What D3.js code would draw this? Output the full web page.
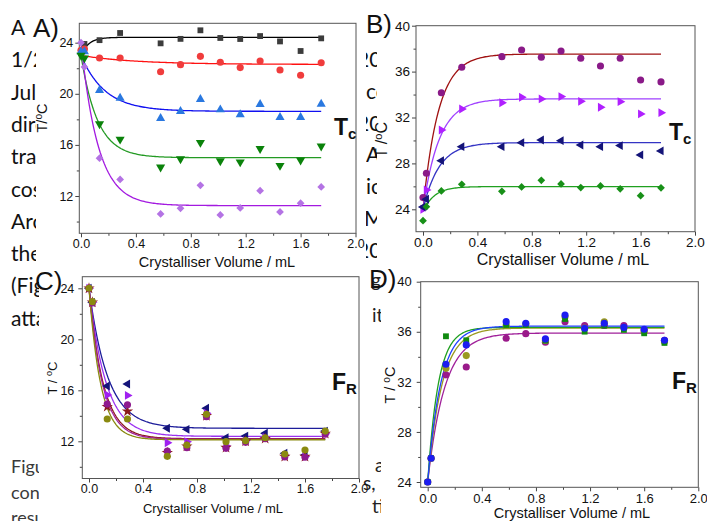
<!DOCTYPE html>
<html>
<head>
<meta charset="utf-8">
<script src="https://cdn.jsdelivr.net/npm/d3@7"></script>
<style>
  html, body { margin: 0; padding: 0; background: #fff; }
  svg { display: block; }
</style>
</head>
<body>
<svg id="fig" width="707" height="521"></svg>
<script>
// ---------------- data ----------------

// crystalliser volumes (mL) shared by every series
const volumes = [0, 0.025, 0.135, 0.285, 0.58, 0.725, 0.87, 1.015, 1.16, 1.305, 1.45, 1.6, 1.75];

// panel A : Tc, cooling
const aBlack  = [23.2, 23.9, 24.2, 24.76, 23.95, 24.3, 24.97, 24.37, 24.29, 24.52, 24.1, 23.35, 24.34];
const aRed    = [23.4, 23.5, 22.8, 22.8, 21.73, 22.28, 22.93, 22.47, 22.05, 22.57, 21.86, 21.45, 22.43];
const aBlue   = [23.3, 23.3, 20.27, 19.67, 18.08, 18.63, 19.57, 18.76, 18.37, 19.18, 18.16, 18.16, 19.2];
const aGreen  = [23.0, 22.8, 17.64, 16.44, 14.25, 14.9, 16.18, 14.74, 14.66, 15.7, 14.38, 14.8, 15.9];
const aPurple = [24.0, 22.1, 14.96, 13.3, 10.6, 11.04, 12.84, 10.52, 11.07, 12.42, 10.75, 11.44, 12.71];
// fitted exponentials: [start, plateau, rate]
const aFits = [[23.0, 24.42, 18], [23.0, 22.3, 2.5], [23.0, 18.63, 5.7], [23.0, 15.0, 8.3], [24.0, 11.25, 8]];

// panel B : Tc, heating
const bPurple  = [25.02, 27.14, 34.16, 36.38, 37.3, 37.88, 37.25, 37.8, 37.16, 36.49, 37.16, 35.27, 35.1];
const bMagenta = [24.0, 25.69, 30.91, 32.74, 33.29, 33.76, 33.62, 33.82, 33.41, 32.89, 33.38, 32.31, 32.42];
const bNavy    = [24.2, 24.88, 28.24, 29.46, 29.46, 29.81, 30.04, 29.98, 29.6, 29.46, 29.55, 28.74, 29.09];
const bGreen   = [23.01, 24.23, 25.6, 26.18, 25.57, 25.95, 26.53, 26.21, 25.89, 26.04, 25.78, 25.19, 25.87];
const bFits = [[24.0, 37.53, 8.8], [24.0, 33.62, 8.4], [24.0, 29.81, 8.5], [23.8, 25.98, 12]];

// panel C : FR, cooling
const cNavy   = [24, 22.9, 16.34, 16.49, 13.02, 12.94, 14.59, 12.28, 12.41, 12.63, 11.06, 10.93, 12.8];
const cViolet = [24, 22.9, 15.63, 15.6, 11.89, 11.97, 14.2, 11.66, 12.05, 12.3, 10.9, 10.8, 12.6];
const cMaroon = [24, 22.9, 14.71, 14.35, 11.1, 11.6, 14.0, 11.5, 12.0, 12.2, 10.8, 10.8, 12.6];
const cPurple = [24, 22.85, 14.92, 14.87, 11.24, 11.5, 13.93, 11.45, 11.92, 12.2, 10.77, 10.75, 12.55];
const cOlive  = [24, 22.95, 13.75, 13.75, 10.82, 11.71, 14.12, 11.97, 12.05, 12.28, 11.0, 11.32, 12.8];
const cFits = [[24, 13.02, 7.2], [24, 12.39, 8], [24, 12.2, 9.5], [24, 12.16, 10], [24, 12.12, 11.5]];

// panel D : FR, heating
const dPurple = [24, 25.9, 32.56, 33.19, 35.48, 35.85, 35.16, 36.8, 36.49, 36.5, 36.49, 36.1, 35.32];
const dOlive  = [24, 25.9, 33.09, 34.1, 36.5, 36.6, 35.3, 37.2, 36.3, 36.8, 36.3, 36.0, 35.2];
const dGreen  = [24, 25.9, 35.64, 35.32, 36.54, 36.54, 35.3, 37.02, 36.01, 36.49, 36.15, 35.88, 35.11];
const dBlue   = [24, 25.9, 33.41, 34.95, 36.81, 36.68, 35.43, 37.34, 36.28, 36.68, 36.35, 36.2, 35.32];
const dFits = [[24, 35.9, 8], [24, 36.3, 9.5], [24, 36.35, 12.8], [24, 36.45, 10.4]];

// tick labels
const xTicks = [0, 0.4, 0.8, 1.2, 1.6, 2.0];
const xMinor = [0.2, 0.6, 1.0, 1.4, 1.8];
const yTicksLow = [12, 16, 20, 24];
const yMinorLow = [10, 14, 18, 22];
const yTicksHigh = [24, 28, 32, 36, 40];
const yMinorHigh = [26, 30, 34, 38];
const xTitle = 'Crystalliser Volume / mL';

// document text that shows around the figure
const leftLines = ['A', '1/2', 'July', 'direct', 'transf', 'cost', 'Arou', 'the', '(Fig', 'attai'];
const captionLines = ['Figure', 'consi', 'resul'];

// ---------------- drawing ----------------
const svg = d3.select('#fig');
const chartFont = '"Liberation Sans", Arial, sans-serif';
const docFont = 'Lato, "Open Sans", sans-serif';

svg.append('rect').attr('width', 707).attr('height', 521).attr('fill', '#fff');

// left column of the page text
const docText = svg.append('g').attr('font-family', docFont);
leftLines.forEach((t, i) => {
  docText.append('text').attr('x', 11).attr('y', 35 + i * 32.3)
    .attr('font-size', 21).attr('fill', '#111').text(t);
});
captionLines.forEach((t, i) => {
  docText.append('text').attr('x', 11).attr('y', 473 + i * 25.5)
    .attr('font-size', 18).attr('fill', '#3a3a3a').text(t);
});

// white picture areas hide the rest of the text
svg.append('rect').attr('x', 36).attr('y', 40).attr('width', 330).attr('height', 222).attr('fill', '#fff');
svg.append('rect').attr('x', 39).attr('y', 262).attr('width', 324).attr('height', 259).attr('fill', '#fff');

// text of the second column, seen only in the gap between pictures
const defs = svg.append('defs');
defs.append('clipPath').attr('id', 'gapTop')
  .append('rect').attr('x', 366).attr('y', 40).attr('width', 11).attr('height', 225);
defs.append('clipPath').attr('id', 'gapBottom')
  .append('rect').attr('x', 362).attr('y', 268).attr('width', 19).attr('height', 253);

const gapTop = svg.append('g').attr('clip-path', 'url(#gapTop)')
  .attr('font-family', docFont).attr('font-size', 21).attr('fill', '#111');
[['20', 357, 67], ['co', 366, 99], ['20', 357, 131], ['A', 366, 162],
 ['ic', 366, 194], ['M', 364, 226], ['20', 357, 258]].forEach(([t, x, y]) => {
  gapTop.append('text').attr('x', x).attr('y', y).text(t);
});
const gapBottom = svg.append('g').attr('clip-path', 'url(#gapBottom)')
  .attr('font-family', docFont).attr('font-size', 19).attr('fill', '#222');
[['g', 371, 287], ['it', 372, 322], ['a', 375, 472], ['s,', 363, 490], ['ti', 372, 513]].forEach(([t, x, y]) => {
  gapBottom.append('text').attr('x', x).attr('y', y).text(t);
});

// marker shapes
function markerPath(shape) {
  const s = d3.symbol();
  switch (shape) {
    case 'square': return { d: s.type(d3.symbolSquare).size(34)(), rot: 0 };
    case 'diamond': return { d: s.type(d3.symbolSquare).size(30)(), rot: 45 };
    case 'circle': return { d: s.type(d3.symbolCircle).size(40)(), rot: 0 };
    case 'up': return { d: s.type(d3.symbolTriangle).size(36)(), rot: 0 };
    case 'down': return { d: s.type(d3.symbolTriangle).size(36)(), rot: 180 };
    case 'right': return { d: s.type(d3.symbolTriangle).size(34)(), rot: 90 };
    case 'left': return { d: s.type(d3.symbolTriangle).size(34)(), rot: -90 };
    case 'star': return { d: s.type(d3.symbolStar).size(40)(), rot: 0 };
    default: return { d: s.type(d3.symbolCircle).size(40)(), rot: 0 };
  }
}

function drawPanel(p) {
  const g = svg.append('g').attr('font-family', chartFont);
  const x = d3.scaleLinear().domain([0, 2]).range([p.x0, p.x2]);
  const y = d3.scaleLinear().domain(p.yDomain).range(p.yRange);

  // x axis ticks and labels
  const xAxis = g.append('g').attr('transform', `translate(0,${p.bottom})`)
    .call(d3.axisBottom(x).tickValues(xTicks).tickFormat(d3.format('.1f')).tickSize(4).tickPadding(2));
  g.append('g').attr('transform', `translate(0,${p.bottom})`)
    .call(d3.axisBottom(x).tickValues(xMinor).tickFormat('').tickSize(2.5));

  // y axis ticks and labels
  const yAxis = g.append('g').attr('transform', `translate(${p.left},0)`)
    .call(d3.axisLeft(y).tickValues(p.yTicks).tickFormat(d3.format('d')).tickSize(p.yTick).tickPadding(p.yPad));
  g.append('g').attr('transform', `translate(${p.left},0)`)
    .call(d3.axisLeft(y).tickValues(p.yMinor).tickFormat('').tickSize(2.5));

  g.selectAll('.domain').remove();
  g.selectAll('.tick line').attr('stroke', '#444');
  xAxis.selectAll('text').attr('font-size', p.tickFont).attr('fill', '#111');
  yAxis.selectAll('text').attr('font-size', p.tickFont).attr('fill', '#111');

  // frame
  g.append('rect')
    .attr('x', p.left).attr('y', p.top)
    .attr('width', p.right - p.left).attr('height', p.bottom - p.top)
    .attr('fill', 'none').attr('stroke', '#555').attr('stroke-width', 1);

  // fitted curves
  const curveX = d3.range(0, 1.7501, 0.01);
  const line = d3.line().x(d => x(d[0])).y(d => y(d[1]));
  p.series.forEach(s => {
    const [start, plateau, rate] = s.fit;
    const pts = curveX.map(v => [v, plateau + (start - plateau) * Math.exp(-rate * v)]);
    g.append('path').datum(pts)
      .attr('d', line)
      .attr('fill', 'none')
      .attr('stroke', s.line)
      .attr('stroke-width', 1.3);
  });

  // measured points
  p.series.forEach(s => {
    const m = markerPath(s.shape);
    g.append('g').selectAll('path')
      .data(s.values.map((v, i) => [volumes[i], v]))
      .join('path')
      .attr('d', m.d)
      .attr('transform', d => `translate(${x(d[0])},${y(d[1])}) rotate(${m.rot})`)
      .attr('fill', s.color);
  });

  // axis titles
  g.append('text')
    .attr('x', p.xtx).attr('y', p.xty)
    .attr('text-anchor', 'middle')
    .attr('font-size', p.titleFont).attr('fill', '#111')
    .text(xTitle);

  const yt = g.append('text')
    .attr('transform', `translate(${p.ytx},${p.yty}) rotate(-90)`)
    .attr('text-anchor', 'middle')
    .attr('font-size', p.titleFont).attr('fill', '#111');
  yt.append('tspan').text(p.yTitle);
  yt.append('tspan').attr('font-size', p.titleFont * 0.7).attr('dy', -5).text('o');
  yt.append('tspan').attr('dy', 5).text('C');

  // panel letter
  g.append('text')
    .attr('x', p.letterX).attr('y', p.letterY)
    .attr('font-size', 26).attr('fill', '#111')
    .text(p.letter);

  // Tc / FR tag
  const tag = g.append('text')
    .attr('x', p.tagX).attr('y', p.tagY)
    .attr('font-weight', 'bold').attr('fill', '#111');
  tag.append('tspan').attr('font-size', 23).text(p.tag[0]);
  tag.append('tspan').attr('font-size', 15).attr('dy', 4).text(p.tag[1]);
}

drawPanel({
  letter: 'A)', letterX: 33, letterY: 37, tag: ['T', 'c'], tagX: 334, tagY: 135,
  x0: 81, x2: 355.5, left: 79.3, right: 356, top: 23.3, bottom: 233.3,
  yDomain: [12, 24], yRange: [196, 42.7], yTicks: yTicksLow, yMinor: yMinorLow,
  yTick: 4, yPad: 2, tickFont: 12.5, titleFont: 14.5,
  xtx: 217, xty: 267, ytx: 47, yty: 118, yTitle: 'T/',
  series: [
    { values: aBlack, fit: aFits[0], shape: 'square', color: '#3c3c3c', line: '#000' },
    { values: aRed, fit: aFits[1], shape: 'circle', color: '#f03c3c', line: '#ff1010' },
    { values: aBlue, fit: aFits[2], shape: 'up', color: '#2a78e0', line: '#1010f0' },
    { values: aGreen, fit: aFits[3], shape: 'down', color: '#0a820a', line: '#239a23' },
    { values: aPurple, fit: aFits[4], shape: 'diamond', color: '#b473e4', line: '#a31ae0' }
  ]
});

drawPanel({
  letter: 'B)', letterX: 366, letterY: 33, tag: ['T', 'c'], tagX: 669, tagY: 140,
  x0: 423, x2: 695, left: 416, right: 695, top: 25.7, bottom: 231.7,
  yDomain: [24, 40], yRange: [209.3, 25.7], yTicks: yTicksHigh, yMinor: yMinorHigh,
  yTick: 4, yPad: 2, tickFont: 13.5, titleFont: 16,
  xtx: 563, xty: 265, ytx: 387, yty: 140, yTitle: 'T /',
  series: [
    { values: bPurple, fit: bFits[0], shape: 'circle', color: '#8a1a88', line: '#a01212' },
    { values: bMagenta, fit: bFits[1], shape: 'right', color: '#b020ff', line: '#a040ff' },
    { values: bNavy, fit: bFits[2], shape: 'left', color: '#141478', line: '#3434c4' },
    { values: bGreen, fit: bFits[3], shape: 'diamond', color: '#189018', line: '#20a020' }
  ]
});

drawPanel({
  letter: 'C)', letterX: 35, letterY: 290, tag: ['F', 'R'], tagX: 332, tagY: 390,
  x0: 89, x2: 359, left: 82.3, right: 359, top: 276.7, bottom: 478.5,
  yDomain: [12, 24], yRange: [441.3, 288.3], yTicks: yTicksLow, yMinor: yMinorLow,
  yTick: 4, yPad: 4, tickFont: 12.5, titleFont: 13,
  xtx: 213, xty: 513, ytx: 57, yty: 378, yTitle: 'T / ',
  series: [
    { values: cNavy, fit: cFits[0], shape: 'left', color: '#14147a', line: '#1c1c9a' },
    { values: cViolet, fit: cFits[1], shape: 'right', color: '#a020f0', line: '#9a30f0' },
    { values: cMaroon, fit: cFits[2], shape: 'star', color: '#8b1a1a', line: '#8b1a1a' },
    { values: cPurple, fit: cFits[3], shape: 'circle', color: '#8e1a8e', line: '#a0209a' },
    { values: cOlive, fit: cFits[4], shape: 'circle', color: '#8a8a10', line: '#8a8a10' }
  ]
});

drawPanel({
  letter: 'D)', letterX: 369, letterY: 288, tag: ['F', 'R'], tagX: 672, tagY: 389,
  x0: 427.7, x2: 698.3, left: 420.7, right: 698.3, top: 281.7, bottom: 487.3,
  yDomain: [24, 40], yRange: [482, 281.7], yTicks: yTicksHigh, yMinor: yMinorHigh,
  yTick: 4, yPad: 5, tickFont: 13, titleFont: 14.5,
  xtx: 572, xty: 518, ytx: 395, yty: 385, yTitle: 'T / ',
  series: [
    { values: dPurple, fit: dFits[0], shape: 'circle', color: '#9a1a8a', line: '#a0209a' },
    { values: dOlive, fit: dFits[1], shape: 'circle', color: '#9a9a20', line: '#9a9a20' },
    { values: dGreen, fit: dFits[2], shape: 'square', color: '#108a10', line: '#20a020' },
    { values: dBlue, fit: dFits[3], shape: 'circle', color: '#1c1cf0', line: '#2040ff' }
  ]
});
</script>
</body>
</html>
